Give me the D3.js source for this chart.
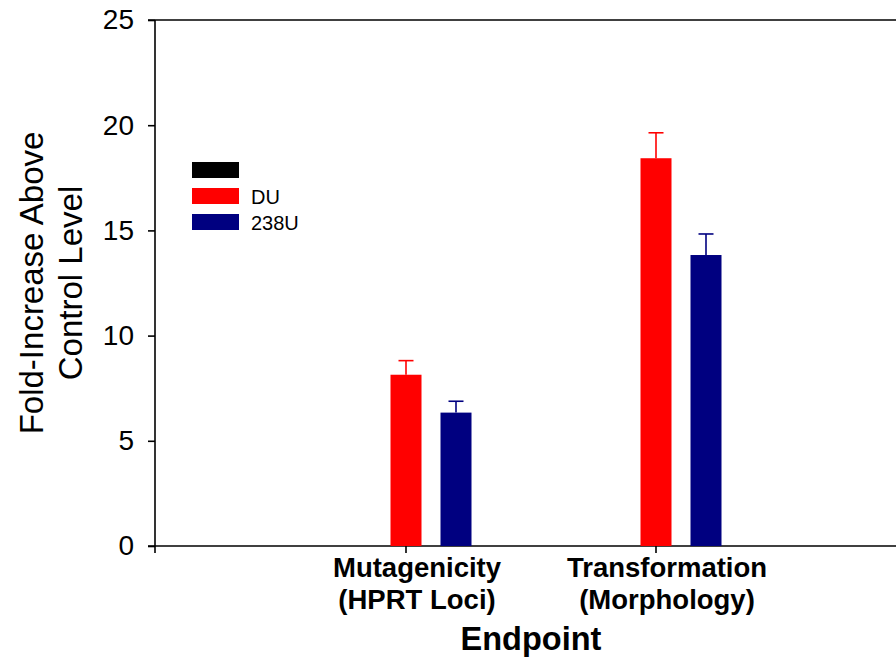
<!DOCTYPE html>
<html>
<head>
<meta charset="utf-8">
<script src="https://cdn.jsdelivr.net/npm/d3@7"></script>
<style>
  body { margin: 0; background: #fff; }
  svg { display: block; font-family: "Liberation Sans", Arial, sans-serif; }
</style>
</head>
<body>
<svg class="chart"></svg>
<script>
// Data
const categories = ["Mutagenicity", "Transformation"];
const categoryLines = [["Mutagenicity", "(HPRT Loci)"], ["Transformation", "(Morphology)"]];
const seriesNames = ["", "DU", "238U"];
const seriesColors = ["#000000", "#ff0000", "#000080"];
const duValues = [8.14, 18.43];
const duErrors = [0.67, 1.21];
const u238Values = [6.34, 13.83];
const u238Errors = [0.54, 1.0];
const yTicks = [0, 5, 10, 15, 20, 25];

function makeChart() {
    const svgWidth = 896,
        svgHeight = 657;
    const margin = { top: 20, left: 155 };
    const height = 526;
    const width = svgWidth - margin.left;

    const canvas = d3.select(".chart")
        .attr("width", svgWidth)
        .attr("height", svgHeight);

    const plotArea = canvas.append("g")
        .attr("transform", `translate(${margin.left},${margin.top})`);

    // Scales
    const x = d3.scaleBand()
        .domain(categories)
        .range([126, 626]);

    const xSub = d3.scaleBand()
        .domain(seriesNames)
        .range([-75, 75])
        .paddingInner(0.38)
        .paddingOuter(0.19);

    const y = d3.scaleLinear()
        .domain([0, 25])
        .range([height, 0]);

    // Frame lines (top and bottom extend past the right edge)
    plotArea.append("line")
        .attr("x1", -7).attr("x2", width)
        .attr("y1", y(25)).attr("y2", y(25))
        .attr("stroke", "#000").attr("stroke-width", 1.6);
    plotArea.append("line")
        .attr("x1", -7).attr("x2", width)
        .attr("y1", y(0)).attr("y2", y(0))
        .attr("stroke", "#000").attr("stroke-width", 1.6);
    plotArea.append("line")
        .attr("x1", 0).attr("x2", 0)
        .attr("y1", y(25)).attr("y2", y(0) + 7)
        .attr("stroke", "#000").attr("stroke-width", 1.6);

    // Y axis
    const yAxis = plotArea.append("g")
        .call(d3.axisLeft(y).tickValues(yTicks).tickSizeInner(7).tickSizeOuter(0).tickPadding(14));
    yAxis.select(".domain").remove();
    yAxis.selectAll(".tick line").attr("stroke", "#000").attr("stroke-width", 1.6);
    yAxis.selectAll(".tick text")
        .attr("fill", "#000")
        .style("font-size", "28px")
        .style("font-family", "'Liberation Sans', Arial, sans-serif");

    // X axis
    const xAxis = plotArea.append("g")
        .attr("transform", `translate(0, ${height})`)
        .call(d3.axisBottom(x).tickSizeInner(7).tickSizeOuter(0).tickFormat(""));
    xAxis.select(".domain").remove();
    xAxis.selectAll(".tick line").attr("stroke", "#000").attr("stroke-width", 1.6);

    xAxis.selectAll(".tick").each(function (d, i) {
        const t = d3.select(this).append("text")
            .attr("fill", "#000")
            .attr("text-anchor", "middle")
            .style("font-size", "27.5px")
            .style("font-weight", "bold")
            .style("font-family", "'Liberation Sans', Arial, sans-serif");
        categoryLines[i].forEach((line, k) => {
            t.append("tspan")
                .attr("x", 11)
                .attr("y", 31 + k * 32)
                .text(line);
        });
    });

    // Bars
    const barSeries = [
        { name: "DU", values: duValues, errors: duErrors },
        { name: "238U", values: u238Values, errors: u238Errors }
    ];

    barSeries.forEach(s => {
        const color = seriesColors[seriesNames.indexOf(s.name)];
        const rows = categories.map((c, i) => ({ cat: c, v: s.values[i], e: s.errors[i] }));
        const cx = d => x(d.cat) + x.bandwidth() / 2 + xSub(s.name) + xSub.bandwidth() / 2;

        plotArea.selectAll(null)
            .data(rows)
            .enter().append("rect")
            .attr("x", d => x(d.cat) + x.bandwidth() / 2 + xSub(s.name))
            .attr("y", d => y(d.v))
            .attr("width", xSub.bandwidth())
            .attr("height", d => y(0) - y(d.v))
            .attr("fill", color);

        // Error bars (upper only)
        plotArea.selectAll(null)
            .data(rows)
            .enter().append("line")
            .attr("x1", cx).attr("x2", cx)
            .attr("y1", d => y(d.v)).attr("y2", d => y(d.v + d.e))
            .attr("stroke", color).attr("stroke-width", 1.6);
        plotArea.selectAll(null)
            .data(rows)
            .enter().append("line")
            .attr("x1", d => cx(d) - 7.5).attr("x2", d => cx(d) + 7.5)
            .attr("y1", d => y(d.v + d.e)).attr("y2", d => y(d.v + d.e))
            .attr("stroke", color).attr("stroke-width", 1.6);
    });

    // Axis labels
    const yLabel = canvas.append("text")
        .attr("transform", "rotate(-90)")
        .attr("text-anchor", "middle")
        .attr("fill", "#000")
        .style("font-size", "33px");
    yLabel.append("tspan").attr("x", -283).attr("y", 43).text("Fold-Increase Above");
    yLabel.append("tspan").attr("x", -283).attr("y", 82).text("Control Level");

    canvas.append("text")
        .attr("x", margin.left + (x("Mutagenicity") + x("Transformation")) / 2 + x.bandwidth() / 2)
        .attr("y", 650)
        .attr("text-anchor", "middle")
        .attr("fill", "#000")
        .style("font-size", "32.5px")
        .style("font-weight", "bold")
        .text("Endpoint");

    // Legend
    const legend = canvas.append("g")
        .attr("transform", "translate(192, 162)");
    seriesNames.forEach((name, i) => {
        legend.append("rect")
            .attr("x", 0)
            .attr("y", i * 26)
            .attr("width", 47)
            .attr("height", 16)
            .attr("fill", seriesColors[i]);
        legend.append("text")
            .attr("x", 59)
            .attr("y", i * 26 + 16)
            .attr("fill", "#000")
            .style("font-size", "20px")
            .text(name);
    });
}

makeChart();
</script>
</body>
</html>
